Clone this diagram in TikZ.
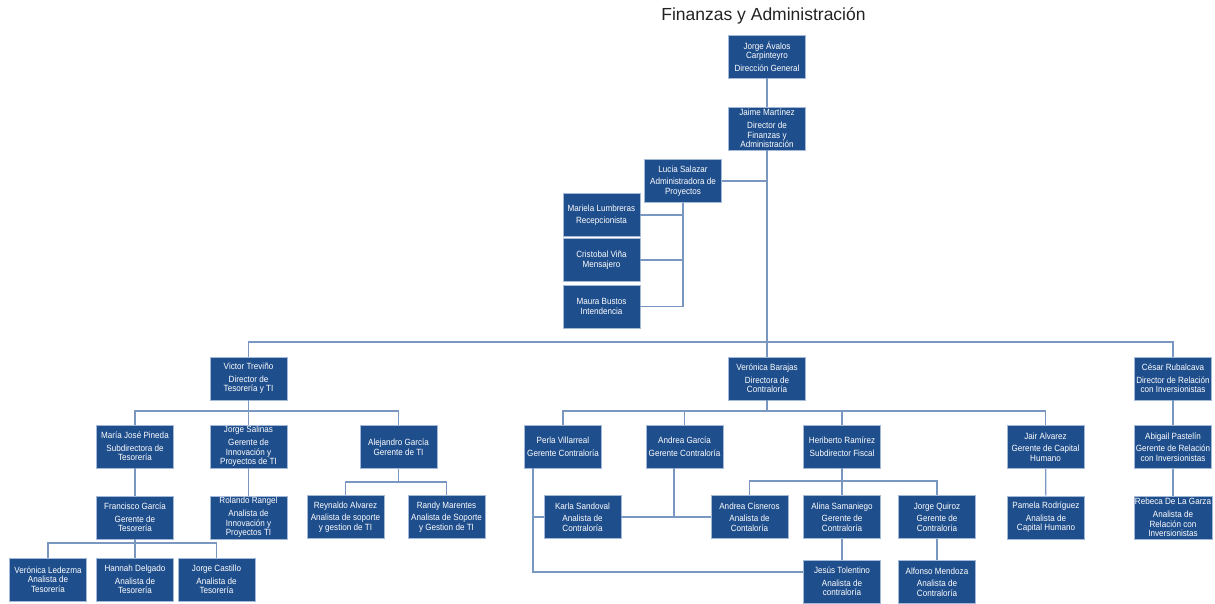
\documentclass[tikz,border=0pt]{standalone}
\usepackage{fontspec}
\setmainfont{Liberation Sans}
\newfontfamily\boxfont[FakeStretch=0.9]{Liberation Sans}
\newfontfamily\titlefont{Liberation Sans}
\definecolor{boxfill}{HTML}{1F4E8C}
\definecolor{boxline}{HTML}{A4B8D8}
\definecolor{linecol}{HTML}{7A97C2}
\definecolor{titlecol}{HTML}{222222}
\tikzset{
  box/.style={draw=boxline, line width=0.6pt, fill=boxfill, text=white,
    minimum width=77pt, minimum height=43pt, inner sep=1pt, align=center,
    font={\boxfont\fontsize{9}{9.6}\selectfont}},
  conn/.style={draw=linecol, line width=1.2pt},
  titlestyle/.style={font={\titlefont\fontsize{17.5}{20}\selectfont}, text=titlecol, anchor=base, inner sep=0pt}
}
\begin{document}
\begin{tikzpicture}[x=1pt,y=-1pt]
\useasboundingbox (0,0) rectangle (1215,604);
\node[titlestyle] (title) at (763.5,20.5) {Finanzas y Administración};
% top
\node[box] (jorge) at (767,56.5) {Jorge Ávalos\\Carpinteyro\\[3pt]Dirección General};
\node[box] (jaime) at (767,128.5) {Jaime Martínez\\[3pt]Director de\\Finanzas y\\Administración};
\node[box] (lucia) at (683,181) {Lucia Salazar\\[3pt]Administradora de\\Proyectos};
\node[box] (mariela) at (601.5,215) {Mariela Lumbreras\\[3pt]Recepcionista};
\node[box] (cristobal) at (601.5,260) {Cristobal Viña\\Mensajero};
\node[box] (maura) at (601.5,306.5) {Maura Bustos\\Intendencia};
% Tesoreria
\node[box] (victor) at (248.5,378.5) {Victor Treviño\\[3pt]Director de\\Tesorería y TI};
\node[box] (mjose) at (135,446.5) {María José Pineda\\[3pt]Subdirectora de\\Tesorería};
\node[box] (jsalinas) at (248.5,446.5) {Jorge Salinas\\[3pt]Gerente de\\Innovación y\\Proyectos de TI};
\node[box] (alejandro) at (398.5,447) {Alejandro García\\Gerente de TI};
\node[box] (francisco) at (135,517.5) {Francisco García\\[3pt]Gerente de\\Tesorería};
\node[box] (rolando) at (248.5,517.5) {Rolando Rangel\\[3pt]Analista de\\Innovación y\\Proyectos TI};
\node[box] (reynaldo) at (345.5,517) {Reynaldo Alvarez\\[3pt]Analista de soporte\\y gestion de TI};
\node[box] (randy) at (446.5,517) {Randy Marentes\\[3pt]Analista de Soporte\\y Gestion de TI};
\node[box] (vledezma) at (48,579.5) {Verónica Ledezma\\Analista de\\Tesorería};
\node[box] (hannah) at (135,579.5) {Hannah Delgado\\[3pt]Analista de\\Tesorería};
\node[box] (jcastillo) at (216.5,579.5) {Jorge Castillo\\[3pt]Analista de\\Tesorería};
% Contraloria
\node[box] (vbarajas) at (767,378.5) {Verónica Barajas\\[3pt]Directora de\\Contraloría};
\node[box] (perla) at (563,446.5) {Perla Villarreal\\[3pt]Gerente Contraloría};
\node[box] (andreag) at (684.5,446.5) {Andrea García\\[3pt]Gerente Contraloría};
\node[box] (heriberto) at (842,446.5) {Heriberto Ramírez\\[3pt]Subdirector Fiscal};
\node[box] (karla) at (582.5,517) {Karla Sandoval\\[3pt]Analista de\\Contraloría};
\node[box] (andreac) at (749.5,517) {Andrea Cisneros\\[3pt]Analista de\\Contaloría};
\node[box] (alina) at (842,517) {Alina Samaniego\\[3pt]Gerente de\\Contraloría};
\node[box] (jquiroz) at (937,517) {Jorge Quiroz\\[3pt]Gerente de\\Contraloría};
\node[box] (jesus) at (842,581.5) {Jesús Tolentino\\[3pt]Analista de\\contraloría};
\node[box] (alfonso) at (937,582) {Alfonso Mendoza\\[3pt]Analista de\\Contraloría};
\node[box] (jair) at (1045.5,447) {Jair Alvarez\\[3pt]Gerente de Capital\\Humano};
\node[box] (pamela) at (1046,517.5) {Pamela Rodríguez\\[3pt]Analista de\\Capital Humano};
% Inversionistas
\node[box] (cesar) at (1173,378.5) {César Rubalcava\\[3pt]Director de Relación\\con Inversionistas};
\node[box] (abigail) at (1173,447) {Abigail Pastelín\\[3pt]Gerente de Relación\\con Inversionistas};
\node[box] (rebeca) at (1173,517.5) {Rebeca De La Garza\\[3pt]Analista de\\Relación con\\Inversionistas};
% connectors
\coordinate (b1) at (767,342);
\draw[conn] (jorge) -- (jaime);
\draw[conn] (jaime.south) -- (b1);
\draw[conn] (victor.north) |- (b1) -| (cesar.north);
\draw[conn] (b1) -- (vbarajas.north);
\draw[conn] (lucia.east) -- (lucia.east -| jaime.south);
\draw[conn] (lucia.south) |- (mariela.east);
\draw[conn] (lucia.south) |- (cristobal.east);
\draw[conn] (lucia.south) |- (maura.east);
\coordinate (vb) at (248.5,411);
\draw[conn] (victor.south) -- (vb);
\draw[conn] (mjose.north) |- (vb) -| (alejandro.north);
\draw[conn] (vb) -- (jsalinas.north);
\draw[conn] (mjose) -- (francisco);
\draw[conn] (jsalinas) -- (rolando);
\coordinate (ab) at (398.5,482);
\draw[conn] (alejandro.south) -- (ab);
\draw[conn] (reynaldo.north) |- (ab) -| (randy.north);
\coordinate (fb) at (135,543);
\draw[conn] (francisco.south) -- (fb);
\draw[conn] (vledezma.north) |- (fb) -| (jcastillo.north);
\draw[conn] (fb) -- (hannah.north);
\coordinate (bb) at (767,411);
\draw[conn] (vbarajas.south) -- (bb);
\draw[conn] (perla.north) |- (bb) -| (jair.north);
\draw[conn] (andreag.north) -- (andreag.north |- bb);
\draw[conn] (heriberto.north) -- (heriberto.north |- bb);
\coordinate (hb) at (842,481);
\draw[conn] (heriberto.south) -- (hb);
\draw[conn] (andreac.north) |- (hb) -| (jquiroz.north);
\draw[conn] (hb) -- (alina.north);
\draw[conn] (alina) -- (jesus);
\draw[conn] (jquiroz) -- (alfonso);
\draw[conn] (jair) -- (pamela);
\draw[conn] (cesar) -- (abigail);
\draw[conn] (abigail) -- (rebeca);
\coordinate (ag) at (674,517);
\draw[conn] (andreag.south -| ag) -- (ag);
\draw[conn] (karla.east) -- (andreac.west);
\coordinate (pv) at (533,572);
\draw[conn] (perla.south -| pv) -- (pv) -- (pv -| jesus.west);
\draw[conn] (karla.west) -- (karla.west -| pv);
\end{tikzpicture}
\end{document}
